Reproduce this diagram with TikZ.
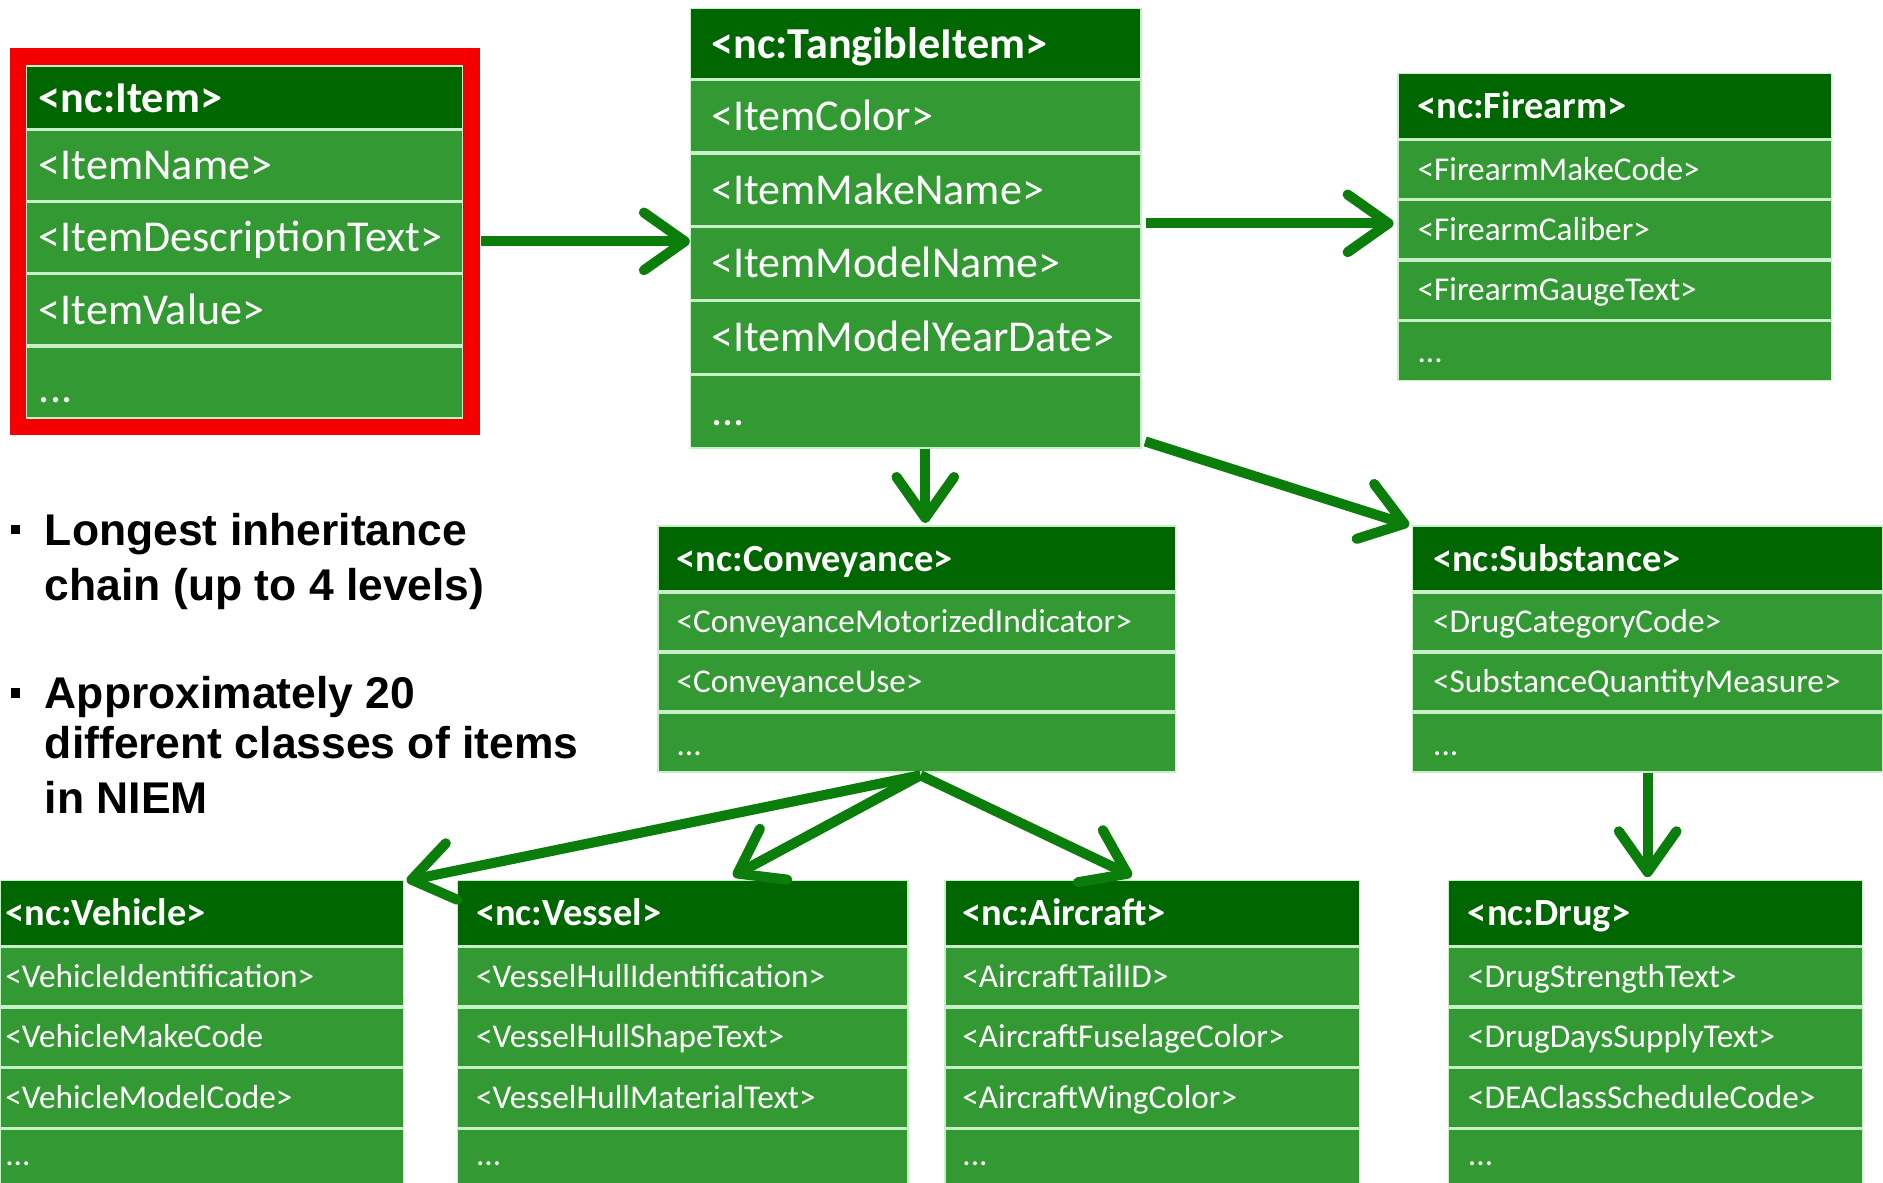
\documentclass[tikz,border=0pt]{standalone}
\usepackage{fontspec}
\setmainfont{Carlito}
\newfontfamily\arialfont{Liberation Sans}
\usetikzlibrary{arrows.meta,calc,fit}
\definecolor{hdr}{RGB}{0,102,0}
\definecolor{rowg}{RGB}{51,153,51}
\definecolor{sepc}{RGB}{200,240,200}
\definecolor{arrg}{RGB}{10,125,10}
\definecolor{framered}{RGB}{245,0,0}
\tikzset{
  bighdr/.style={anchor=base west, inner sep=0pt, text=white, font=\bfseries\fontsize{18.4}{20}\selectfont},
  bigrow/.style={anchor=base west, inner sep=0pt, text=white, font=\fontsize{18.35}{20}\selectfont},
  smallhdr/.style={anchor=base west, inner sep=0pt, text=white, font=\bfseries\fontsize{16}{18}\selectfont},
  smallrow/.style={anchor=base west, inner sep=0pt, text=white, font=\fontsize{13.85}{16}\selectfont},
  sepline/.style={draw=sepc, line width=1.4pt},
  arr/.style={draw=arrg, line width=4.2pt, -{Straight Barb[length=17pt,width=24pt,round]}},
  bullettext/.style={anchor=base west, inner sep=0pt, text=black, font=\arialfont\bfseries\fontsize{18.5}{22}\selectfont},
}
\def\bighoff{11.8}
\def\smallhoff{10.3}
\def\bigroff{11.8}
\def\smallroff{8.9}
\def\tx{15}
\def\dotf{0.7}
\newcommand\mkbox[9]{%
  \gdef\nrows{1}%
  \foreach \rowtext in {#9}{\xdef\nrows{\the\numexpr\nrows+1\relax}}%
  \pgfmathsetmacro\ybot{#5+#6+\nrows*#7}%
  \pgfmathtruncatemacro\nlast{\nrows-1}%
  \fill[rowg] (#3,#5) rectangle (#4,\ybot);
  \fill[hdr] (#3,#5) rectangle (#4,#5+#6);
  \coordinate (#1-nw) at (#3,#5);
  \coordinate (#1-se) at (#4,\ybot);
  \node[fit=(#1-nw)(#1-se), inner sep=0pt, draw=sepc, line width=0.6pt] (#1) {};
  \foreach \i in {0,...,\nlast}{\draw[sepline] (#3,#5+#6+\i*#7) -- (#4,#5+#6+\i*#7);}
  \node[#2hdr] (#1-h) at (#3+\tx,#5+#6/2+\csname #2hoff\endcsname) {#8};
  \foreach \rowtext [count=\i] in {#9}{%
    \node[#2row] (#1-r\i) at (#3+\tx,#5+#6+\i*#7-0.5*#7+\csname #2roff\endcsname) {\rowtext};}
  \node[#2row] (#1-dots) at (#3+\tx,#5+#6+\nlast*#7+\dotf*#7) {...};
}
\begin{document}
\begin{tikzpicture}[x=0.5pt,y=-0.5pt]
\useasboundingbox (0,0) rectangle (1568,985);
\clip (0,0) rectangle (1568,985);
\fill[white] (0,0) rectangle (1568,985);
% red frame
\coordinate (rf-nw) at (8,40);
\coordinate (rf-se) at (400,362);
\node[fit=(rf-nw)(rf-se), fill=framered, inner sep=0pt] (itemframe) {};
\def\tx{10}\def\dotf{0.78}
\mkbox{item}{big}{22}{385}{55}{53}{60}{<nc:Item>}{<ItemName>,<ItemDescriptionText>,<ItemValue>}
\def\tx{17}\def\dotf{0.7}
\mkbox{tangible}{big}{575}{950}{7}{59}{61.4}{<nc:TangibleItem>}{<ItemColor>,<ItemMakeName>,<ItemModelName>,<ItemModelYearDate>}
\def\tx{16}\def\dotf{0.7}
\mkbox{firearm}{small}{1164}{1525}{61}{55}{50.25}{<nc:Firearm>}{<FirearmMakeCode>,<FirearmCaliber>,<FirearmGaugeText>}
\def\tx{15}\def\dotf{0.72}
\mkbox{conveyance}{small}{548}{979}{438}{55}{50}{<nc:Conveyance>}{<ConveyanceMotorizedIndicator>,<ConveyanceUse>}
\def\tx{17}
\mkbox{substance}{small}{1176}{1568}{438}{55}{50}{<nc:Substance>}{<DrugCategoryCode>,<SubstanceQuantityMeasure>}
\def\tx{4}\def\dotf{0.62}
\mkbox{vehicle}{small}{0}{336}{733}{55}{50.5}{<nc:Vehicle>}{<VehicleIdentification>,<VehicleMakeCode,<VehicleModelCode>}
\def\tx{15}
\mkbox{vessel}{small}{381}{756}{733}{55}{50.5}{<nc:Vessel>}{<VesselHullIdentification>,<VesselHullShapeText>,<VesselHullMaterialText>}
\def\tx{14}
\mkbox{aircraft}{small}{787}{1132}{733}{55}{50.5}{<nc:Aircraft>}{<AircraftTailID>,<AircraftFuselageColor>,<AircraftWingColor>}
\def\tx{16}
\mkbox{drug}{small}{1206}{1551}{733}{55}{50.5}{<nc:Drug>}{<DrugStrengthText>,<DrugDaysSupplyText>,<DEAClassScheduleCode>}
% bullets
\fill[black] (9,437) rectangle (17,445);
\fill[black] (9,573) rectangle (17,581);
\node[bullettext] (b1a) at (37,454) {Longest inheritance};
\node[bullettext] (b1b) at (37,500) {chain (up to 4 levels)};
\node[bullettext] (b2a) at (37,590) {Approximately 20};
\node[bullettext] (b2b) at (37,632) {different classes of items};
\node[bullettext] (b2c) at (37,677) {in NIEM};
% arrows
\draw[arr] (itemframe.east) -- (tangible.west |- itemframe.east);
\draw[arr] ($(tangible.east)+(4,-4)$) -- ($(firearm.west |- tangible.east)+(-3,-4)$);
\draw[arr] ($(tangible.south)+(8,0)$) -- ($(conveyance.north)+(7,-2)$);
\draw[arr] ($(tangible.south east)+(3,-6)$) -- ($(substance.north west)+(-2,0)$);
\draw[arr] (substance.south) -- ($(substance.south |- drug.north)+(0,-2)$);
\coordinate (cv) at ($(conveyance.south)+(3,2)$);
\draw[arr] (cv) -- ($(vehicle.north east)+(2,1)$);
\draw[arr] (cv) -- ($(vessel.north)+(42,-3)$);
\draw[arr] (cv) -- ($(aircraft.north)+(-17,-3)$);
\end{tikzpicture}
\end{document}
